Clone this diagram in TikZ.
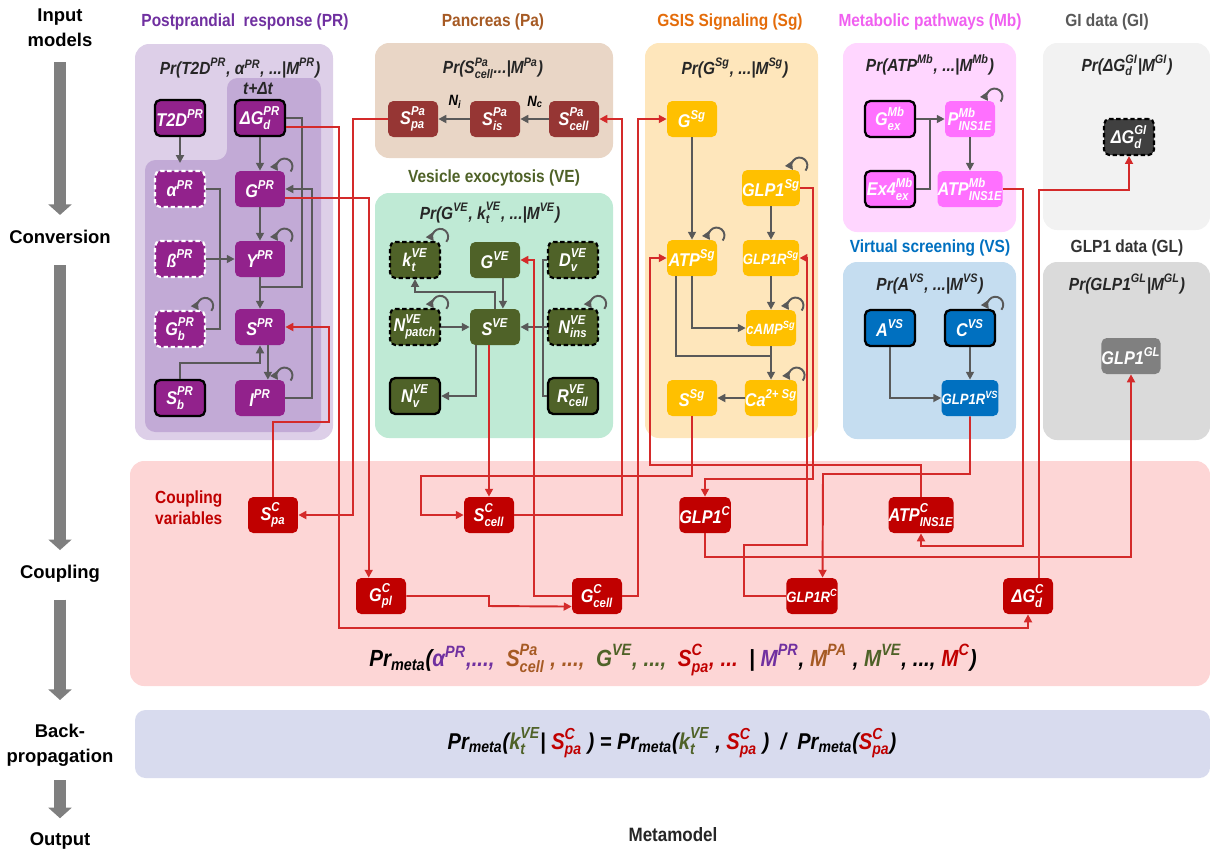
\documentclass[tikz,border=0pt]{standalone}
\usepackage{amsmath}
\usepackage{fontspec}
\setmainfont[FakeStretch=0.88]{Liberation Sans}
\newfontfamily\stagefont{Liberation Sans}
\usetikzlibrary{arrows.meta}

% panel fills
\definecolor{prback}{RGB}{221,207,232}
\definecolor{prdeep}{RGB}{194,170,214}
\definecolor{paback}{RGB}{233,214,198}
\definecolor{veback}{RGB}{191,234,213}
\definecolor{sgback}{RGB}{254,230,187}
\definecolor{mbback}{RGB}{255,214,255}
\definecolor{vsback}{RGB}{197,221,240}
\definecolor{giback}{RGB}{242,242,242}
\definecolor{glback}{RGB}{218,218,218}
\definecolor{cpback}{RGB}{253,214,214}
\definecolor{bpback}{RGB}{216,219,238}
% node fills and title colours
\definecolor{prfill}{RGB}{146,34,140}
\definecolor{prtext}{RGB}{112,48,160}
\definecolor{pafill}{RGB}{150,54,52}
\definecolor{patext}{RGB}{166,90,36}
\definecolor{vefill}{RGB}{79,98,40}
\definecolor{sgfill}{RGB}{255,192,0}
\definecolor{sgtext}{RGB}{228,108,10}
\definecolor{mbfill}{RGB}{255,112,255}
\definecolor{mbtext}{RGB}{240,96,240}
\definecolor{vsfill}{RGB}{0,112,192}
\definecolor{gifill}{RGB}{64,64,64}
\definecolor{glfill}{RGB}{128,128,128}
\definecolor{cfill}{RGB}{192,0,0}
\definecolor{flowgray}{RGB}{89,89,89}
\definecolor{wirered}{RGB}{212,42,42}
\definecolor{stagegray}{RGB}{127,127,127}

\newcommand{\vsup}[2]{$\text{#1}^{\text{#2}}$}
\newcommand{\vsub}[3]{$\text{#1}^{\text{#2}}_{\text{#3}}$}
\newcommand{\vlow}[2]{$\text{#1}_{\text{#2}}$}
\newcommand{\selfloop}[1]{\draw[flow,->] ([shift={(3pt,-0.5pt)}]#1.north east) arc[start angle=-40,end angle=215,radius=4.5pt];}

\begin{document}
\begin{tikzpicture}[x=0.02cm,y=-0.02cm,>={Triangle[length=4.5pt,width=4.5pt]}]
  \tikzstyle{every node}=[font=\fontsize{10}{12}\selectfont\bfseries]
  \tikzstyle{var}=[rectangle,rounded corners=3pt,minimum width=1cm,minimum height=0.72cm,inner sep=0pt,text=white,font=\fontsize{10.5}{12}\selectfont\bfseries\itshape]
  \tikzstyle{smalllabel}=[font=\fontsize{8.5}{10}\selectfont\bfseries\itshape]
  \tikzstyle{known}=[draw=black,line width=1.3pt]
  \tikzstyle{free}=[draw=white,dash pattern=on 2.5pt off 1.5pt,line width=1.2pt]
  \tikzstyle{freedark}=[draw=black,dash pattern=on 2.5pt off 1.5pt,line width=1.2pt]
  \tikzstyle{prv}=[var,fill=prfill]
  \tikzstyle{pav}=[var,fill=pafill]
  \tikzstyle{vev}=[var,fill=vefill]
  \tikzstyle{sgv}=[var,fill=sgfill]
  \tikzstyle{mbv}=[var,fill=mbfill]
  \tikzstyle{vsv}=[var,fill=vsfill]
  \tikzstyle{cv}=[var,fill=cfill]
  \tikzstyle{modeltext}=[font=\fontsize{10}{12}\selectfont\bfseries\itshape,text=black!85]
  \tikzstyle{paneltitle}=[font=\fontsize{10}{12}\selectfont\bfseries]
  \tikzstyle{stage}=[font=\stagefont\fontsize{10.5}{14}\selectfont\bfseries,align=center,inner sep=0pt]
  \tikzstyle{flow}=[draw=flowgray,line width=1.1pt]
  \tikzstyle{wire}=[draw=wirered,line width=1.1pt]
  \tikzstyle{bigarrow}=[draw=stagegray,line width=7pt,-{Triangle[length=6pt,width=13pt]}]

  \useasboundingbox (0,0) rectangle (1210,850);

  % panels
  \fill[prback,rounded corners=8pt] (135,44) rectangle (333,440);
  \fill[prdeep,rounded corners=6pt] (227,78) -- (321,78) -- (321,432) -- (145,432) -- (145,160) -- (227,160) -- cycle;
  \fill[paback,rounded corners=8pt] (375,43) rectangle (613,158);
  \fill[veback,rounded corners=8pt] (375,193) rectangle (613,438);
  \fill[sgback,rounded corners=8pt] (645,43) rectangle (818,438);
  \fill[mbback,rounded corners=8pt] (843,43) rectangle (1016,232);
  \fill[vsback,rounded corners=8pt] (843,262) rectangle (1016,439);
  \fill[giback,rounded corners=8pt] (1043,43) rectangle (1210,230);
  \fill[glback,rounded corners=8pt] (1043,262) rectangle (1210,440);
  \fill[cpback,rounded corners=8pt] (130,461) rectangle (1210,686);
  \fill[bpback,rounded corners=6pt] (135,710) rectangle (1210,778);

  % stages on the left
  \node[stage] (inp) at (60,28) {Input\\models};
  \node[stage] (conv) at (60,237) {Conversion};
  \node[stage] (coup) at (60,574) {Coupling};
  \node[stage] (back) at (60,745) {Back-\\propagation};
  \node[stage] (outp) at (60,841) {Output};
  \draw[bigarrow] ([yshift=-8.5pt]inp.south) -- ([yshift=8.5pt]conv.north);
  \draw[bigarrow] ([yshift=-12pt]conv.south) -- ([yshift=8.5pt]coup.north);
  \draw[bigarrow] ([yshift=-9.5pt]coup.south) -- ([yshift=13.5pt]back.north);
  \draw[bigarrow] ([yshift=-8pt]back.south) -- ([yshift=8pt]outp.north);

  % titles
  \node[paneltitle,text=prtext] (prtitle) at (245,22) {Postprandial\ \ response (PR)};
  \node[paneltitle,text=patext] (patitle) at (493,22) {Pancreas (Pa)};
  \node[paneltitle,text=sgtext] (sgtitle) at (730,22) {GSIS Signaling (Sg)};
  \node[paneltitle,text=mbtext] (mbtitle) at (930,22) {Metabolic pathways (Mb)};
  \node[paneltitle,text=black!65] (gititle) at (1107,22) {GI data (GI)};
  \node[paneltitle,text=vefill] (vetitle) at (494,178) {Vesicle exocytosis (VE)};
  \node[paneltitle,text=vsfill] (vstitle) at (930,248) {Virtual screening (VS)};
  \node[paneltitle,text=black!80] (gltitle) at (1127,248) {GLP1 data (GL)};
  \node[paneltitle,text=cfill,align=left,anchor=west] (cptitle) at (149,508) {Coupling\\variables};

  % model distributions
  \node[modeltext] (prmodel) at (240,68) {Pr(\vsup{T2D}{PR}, \vsup{α}{PR}, ...|\vsup{M}{PR})};
  \node[modeltext] (tstep) at (258,89) {t+Δt};
  \node[modeltext] (pamodel) at (493,68) {Pr(\vsub{S}{Pa}{cell}...|\vsup{M}{Pa})};
  \node[modeltext] (vemodel) at (490,213) {Pr(\vsup{G}{VE}, \vsub{k}{VE}{t}, ...|\vsup{M}{VE})};
  \node[modeltext] (sgmodel) at (735,68) {Pr(\vsup{G}{Sg}, ...|\vsup{M}{Sg})};
  \node[modeltext] (mbmodel) at (930,65) {Pr(\vsup{ATP}{Mb}, ...|\vsup{M}{Mb})};
  \node[modeltext] (vsmodel) at (930,284) {Pr(\vsup{A}{VS}, ...|\vsup{M}{VS})};
  \node[modeltext] (gimodel) at (1127,65) {Pr(\vsub{ΔG}{GI}{d}|\vsup{M}{GI})};
  \node[modeltext] (glmodel) at (1127,284) {Pr(\vsup{GLP1}{GL}|\vsup{M}{GL})};

  % postprandial response
  \path (180,118) node[prv,known] (T2D) {\vsup{T2D}{PR}};
  \path (260,118) node[prv,known] (dGpr) {\vsub{ΔG}{PR}{d}};
  \path (180,189) node[prv,free] (alpha) {\vsup{α}{PR}};
  \path (260,189) node[prv] (Gpr) {\vsup{G}{PR}};
  \path (180,259) node[prv,free] (beta) {\vsup{ß}{PR}};
  \path (260,259) node[prv] (Ypr) {\vsup{Y}{PR}};
  \path (180,329) node[prv,free] (Gb) {\vsub{G}{PR}{b}};
  \path (260,327) node[prv] (Spr) {\vsup{S}{PR}};
  \path (180,398) node[prv,known] (Sb) {\vsub{S}{PR}{b}};
  \path (260,398) node[prv] (Ipr) {\vsup{I}{PR}};

  \draw[flow,->] (T2D.south) -- (180,163);
  \draw[flow,->] (dGpr) -- (Gpr);
  \draw[flow,->] (Gpr) -- (Ypr);
  \draw[flow,->] (Ypr) -- (Spr);
  \draw[flow] (dGpr.east) -| (302,287) -- (260,287);
  \draw[flow,->] ([xshift=4.5pt]Spr.south) -- ([xshift=4.5pt]Ipr.north);
  \draw[flow,->] (Sb.north) |- (260,363) -- (Spr.south);
  \draw[flow,->] (Ipr.east) -| (312,189) -- (Gpr.east);
  \draw[flow] (alpha.east) -| (220,259);
  \draw[flow] (Gb.east) -| (220,259);
  \draw[flow,->] (beta) -- (Ypr);
  \selfloop{Gpr}
  \selfloop{Ypr}
  \selfloop{Ipr}
  \selfloop{Gb}

  % pancreas
  \path (413,119) node[pav] (Spa) {\vsub{S}{Pa}{pa}};
  \path (495,119) node[pav] (Sis) {\vsub{S}{Pa}{is}};
  \path (574,119) node[pav] (Scell) {\vsub{S}{Pa}{cell}};
  \draw[flow,->] (Scell) -- (Sis);
  \draw[flow,->] (Sis) -- (Spa);
  \node[smalllabel] (Nc) at (535,102) {\vlow{N}{c}};
  \node[smalllabel] (Ni) at (455,102) {\vlow{N}{i}};

  % vesicle exocytosis
  \path (415,260) node[vev,freedark] (kt) {\vsub{k}{VE}{t}};
  \path (495,260) node[vev] (Gve) {\vsup{G}{VE}};
  \path (573,260) node[vev,freedark] (Dv) {\vsub{D}{VE}{v}};
  \path (415,327) node[vev,freedark] (Npatch) {\vsub{N}{VE}{patch}};
  \path (495,327) node[vev] (Sve) {\vsup{S}{VE}};
  \path (573,327) node[vev,freedark] (Nins) {\vsub{N}{VE}{ins}};
  \path (415,396) node[vev,known] (Nv) {\vsub{N}{VE}{v}};
  \path (573,396) node[vev,known] (Rcell) {\vsub{R}{VE}{cell}};

  \draw[flow,->] ([xshift=4.5pt]Gve.south) -- ([xshift=4.5pt]Sve.north);
  \draw[flow,->] (Sve.north) |- (415,292) -- (kt.south);
  \draw[flow,->] (Npatch) -- (Sve);
  \draw[flow,->] (Nins) -- (Sve);
  \draw[flow] (Dv.west) -| (543,327);
  \draw[flow] (Rcell.west) -| (543,327);
  \draw[flow,->] ([xshift=-11pt]Sve.south) |- (Nv.east);
  \selfloop{kt}
  \selfloop{Npatch}
  \selfloop{Nins}

  % GSIS signaling
  \path (692,119) node[sgv] (Gsg) {\vsup{G}{Sg}};
  \path (771,188) node[sgv] (GLPsg) {\vsup{GLP1}{Sg}};
  \path (692,258) node[sgv] (ATPsg) {\vsup{ATP}{Sg}};
  \path (771,258) node[sgv,smalllabel] (GLPRsg) {\vsup{GLP1R}{Sg}};
  \path (771,328) node[sgv,smalllabel] (cAMP) {\vsup{cAMP}{Sg}};
  \path (692,398) node[sgv] (Ssg) {\vsup{S}{Sg}};
  \path (771,398) node[sgv] (Ca) {\vsup{Ca}{2+ Sg}};

  \draw[flow,->] (Gsg) -- (ATPsg);
  \draw[flow,->] (GLPsg) -- (GLPRsg);
  \draw[flow,->] (GLPRsg) -- (cAMP);
  \draw[flow,->] (ATPsg.south) |- (cAMP.west);
  \draw[flow] ([xshift=-9pt]ATPsg.south) |- (771,356);
  \draw[flow,->] (cAMP) -- (Ca);
  \draw[flow,->] (Ca) -- (Ssg);
  \selfloop{ATPsg}
  \selfloop{GLPsg}
  \selfloop{cAMP}
  \selfloop{Ca}

  % metabolic pathways
  \path (890,119) node[mbv,known] (Gex) {\vsub{G}{Mb}{ex}};
  \path (970,119) node[mbv] (Pmb) {\vsub{P}{Mb}{INS1E}};
  \path (890,189) node[mbv,known] (Ex4) {\vsub{Ex4}{Mb}{ex}};
  \path (970,189) node[mbv] (ATPmb) {\vsub{ATP}{Mb}{INS1E}};
  \draw[flow,->] (Gex) -- (Pmb);
  \draw[flow] (Ex4.east) -| (930,119);
  \draw[flow,->] (Pmb) -- (ATPmb);
  \selfloop{Pmb}

  % virtual screening
  \path (890,328) node[vsv,known] (Avs) {\vsup{A}{VS}};
  \path (970,328) node[vsv,known] (Cvs) {\vsup{C}{VS}};
  \path (970,398) node[vsv,smalllabel] (GLPRvs) {\vsup{GLP1R}{VS}};
  \draw[flow,->] (Cvs) -- (GLPRvs);
  \draw[flow,->] (Avs.south) |- (GLPRvs.west);
  \selfloop{Cvs}

  % data
  \path (1129,137) node[var,fill=gifill,freedark] (dGgi) {\vsub{ΔG}{GI}{d}};
  \path (1131,356) node[var,fill=glfill] (GLPgl) {\vsup{GLP1}{GL}};

  % coupling variables
  \path (273,515) node[cv] (SpaC) {\vsub{S}{C}{pa}};
  \path (489,515) node[cv] (ScellC) {\vsub{S}{C}{cell}};
  \path (705,515) node[cv] (GLPC) {\vsup{GLP1}{C}};
  \path (921,515) node[cv] (ATPC) {\vsub{ATP}{C}{INS1E}};
  \path (381,596) node[cv] (GplC) {\vsub{G}{C}{pl}};
  \path (597,596) node[cv] (GcellC) {\vsub{G}{C}{cell}};
  \path (812,596) node[cv,smalllabel] (GLPRC) {\vsup{GLP1R}{C}};
  \path (1028,596) node[cv] (dGC) {\vsub{ΔG}{C}{d}};

  % coupling wires
  \draw[wire,->] (Spa.west) -| (353,515) -- (SpaC.east);
  \draw[wire,->] ([yshift=-5pt]dGpr.east) -| (339,628) -| (dGC.south);
  \draw[wire,->] ([yshift=-5pt]Gpr.east) -| ([xshift=-7pt]GplC.north);
  \draw[wire,->] (SpaC.north) |- (329,422) |- (Spr.east);
  \draw[wire,->] (Sve.south -| ScellC.north) -- (ScellC.north);
  \draw[wire,->] (GcellC.west) -| (534,260) -- (Gve.east);
  \draw[wire,->] (GcellC.east) -| (638,119) -- (Gsg.west);
  \draw[wire,->] (ScellC.east) -| (622,119) -- (Scell.east);
  \draw[wire,->] (GplC.east) -| (489,606) -- ([yshift=-6pt]GcellC.west);
  \draw[wire,->] (Ssg.south) |- (421,476) |- (ScellC.west);
  \draw[wire,->] (ATPC.north) |- (650,465) |- (ATPsg.west);
  \draw[wire,->] (GLPsg.east) -| (813,479) -| (GLPC.north);
  \draw[wire,->] (GLPRC.west) -| (744,545) -| (807,258) -- (GLPRsg.east);
  \draw[wire,->] (GLPRvs.south) |- (823,474) -- ([xshift=6pt]GLPRC.north);
  \draw[wire,->] (ATPmb.east) -| (1023,546) -| (ATPC.south);
  \draw[wire,->] ([xshift=6pt]dGC.north) |- (1129,190) -- (dGgi.south);
  \draw[wire,->] (GLPC.south) |- (1131,557) -- (GLPgl.south);

  % meta model
  \node[font=\fontsize{13.3}{16}\selectfont\bfseries\itshape] (meta) at (673,660) {\vlow{Pr}{meta}(\textcolor{prtext}{\vsup{α}{PR},...,}\ \ \textcolor{patext}{\vsub{S}{Pa}{cell} , ...,}\ \ \textcolor{vefill}{\vsup{G}{VE}, ...,}\ \ \textcolor{cfill}{\vsub{S}{C}{pa}, ...}\ \ | \textcolor{prtext}{\vsup{M}{PR}}, \textcolor{patext}{\vsup{M}{PA}} , \textcolor{vefill}{\vsup{M}{VE}}, ..., \textcolor{cfill}{\vsup{M}{C}})};
  \node[font=\fontsize{13}{15}\selectfont\bfseries\itshape] (bayes) at (672,743) {\vlow{Pr}{meta}(\textcolor{vefill}{\vsub{k}{VE}{t}}| \textcolor{cfill}{\vsub{S}{C}{pa}} ) = \vlow{Pr}{meta}(\textcolor{vefill}{\vsub{k}{VE}{t}} , \textcolor{cfill}{\vsub{S}{C}{pa}} )\ \ /\ \ \vlow{Pr}{meta}(\textcolor{cfill}{\vsub{S}{C}{pa}})};
  \node[font=\fontsize{11}{13}\selectfont\bfseries,text=black!85] (mm) at (673,835) {Metamodel};
\end{tikzpicture}
\end{document}
